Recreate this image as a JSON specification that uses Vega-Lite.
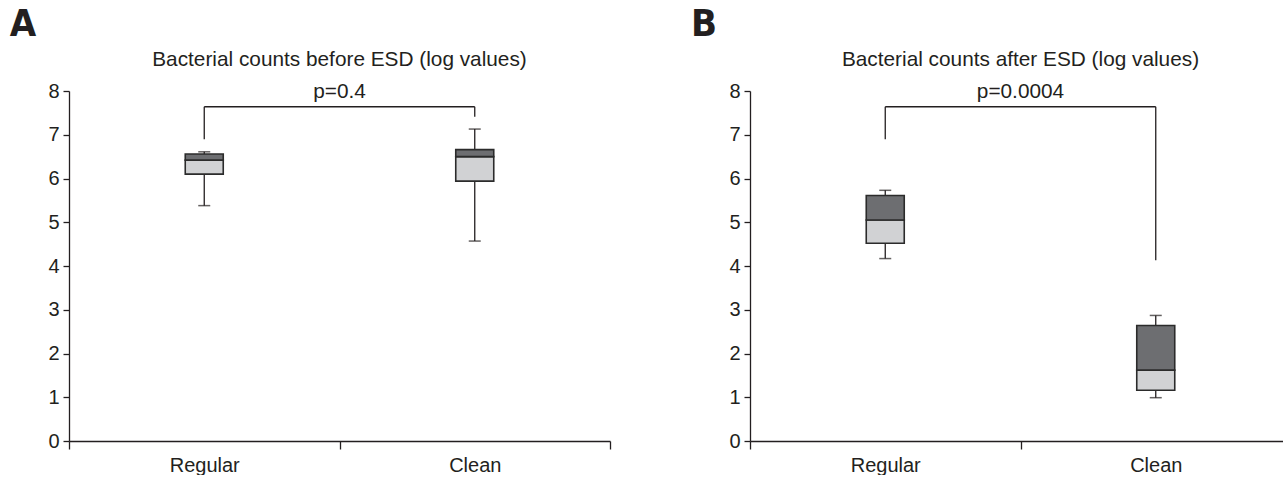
{
  "$schema": "https://vega.github.io/schema/vega-lite/v6.json",
  "background": "white",
  "padding": {"left": 9, "top": 5, "right": 0, "bottom": 0},
  "spacing": 79,
  "config": {
    "view": {"stroke": null},
    "font": "Liberation Sans",
    "axis": {
      "grid": false,
      "title": null,
      "domainColor": "#231f20",
      "tickColor": "#231f20",
      "labelColor": "#231f20",
      "labelFont": "Liberation Sans",
      "labelFontSize": 20,
      "domainWidth": 1.3,
      "tickWidth": 1.3
    }
  },
  "datasets": {
    "boxesA": [
      {"group": "Regular", "min": 5.38, "q1": 6.10, "median": 6.42, "q3": 6.56, "max": 6.61},
      {"group": "Clean", "min": 4.57, "q1": 5.94, "median": 6.50, "q3": 6.66, "max": 7.13}
    ],
    "boxesB": [
      {"group": "Regular", "min": 4.17, "q1": 4.52, "median": 5.05, "q3": 5.61, "max": 5.73},
      {"group": "Clean", "min": 0.99, "q1": 1.16, "median": 1.62, "q3": 2.64, "max": 2.87}
    ],
    "legsA": [
      {"group": "Regular", "bottom": 6.90, "top": 7.64},
      {"group": "Clean", "bottom": 7.41, "top": 7.64}
    ],
    "legsB": [
      {"group": "Regular", "bottom": 6.90, "top": 7.64},
      {"group": "Clean", "bottom": 4.13, "top": 7.64}
    ],
    "textA": [
      {"group": "Clean", "title": "Bacterial counts before ESD (log values)", "p": "p=0.4", "letter": "A", "first": "Regular", "y": 7.64}
    ],
    "textB": [
      {"group": "Clean", "title": "Bacterial counts after ESD (log values)", "p": "p=0.0004", "letter": "B", "first": "Regular", "y": 7.64}
    ]
  },
  "hconcat": [
    {
      "width": 541,
      "height": 350,
      "layer": [
        {
          "data": {"name": "boxesA"},
          "mark": {"type": "rule", "color": "#231f20", "strokeWidth": 1.3},
          "encoding": {
            "x": {"field": "group", "type": "nominal", "scale": {"domain": ["Regular", "Clean"], "paddingInner": 0, "paddingOuter": 0}, "axis": {"labelAngle": 0, "tickBand": "extent", "tickSize": 8, "labelPadding": 6}},
            "y": {"field": "min", "type": "quantitative", "scale": {"domain": [0, 8], "nice": false}, "axis": {"values": [0, 1, 2, 3, 4, 5, 6, 7, 8], "tickSize": 6, "labelPadding": 4}},
            "y2": {"field": "max"}
          }
        },
        {
          "data": {"name": "boxesA"},
          "transform": [{"fold": ["min", "max"], "as": ["stat", "value"]}],
          "mark": {"type": "tick", "color": "#231f20", "size": 12, "thickness": 1.5},
          "encoding": {
            "x": {"field": "group", "type": "nominal"},
            "y": {"field": "value", "type": "quantitative"}
          }
        },
        {
          "data": {"name": "boxesA"},
          "mark": {"type": "bar", "fill": "#d1d2d4", "stroke": "#2b2b2b", "strokeWidth": 1.6, "size": 38},
          "encoding": {
            "x": {"field": "group", "type": "nominal"},
            "y": {"field": "q1", "type": "quantitative"},
            "y2": {"field": "median"}
          }
        },
        {
          "data": {"name": "boxesA"},
          "mark": {"type": "bar", "fill": "#6d6e71", "stroke": "#2b2b2b", "strokeWidth": 1.6, "size": 38},
          "encoding": {
            "x": {"field": "group", "type": "nominal"},
            "y": {"field": "median", "type": "quantitative"},
            "y2": {"field": "q3"}
          }
        },
        {
          "data": {"name": "legsA"},
          "mark": {"type": "rule", "color": "#231f20", "strokeWidth": 1.3},
          "encoding": {
            "x": {"field": "group", "type": "nominal"},
            "y": {"field": "bottom", "type": "quantitative"},
            "y2": {"field": "top"}
          }
        },
        {
          "data": {"name": "textA"},
          "mark": {"type": "rule", "color": "#231f20", "strokeWidth": 1.3},
          "encoding": {
            "x": {"field": "first", "type": "nominal"},
            "x2": {"field": "group"},
            "y": {"field": "y", "type": "quantitative"}
          }
        },
        {
          "data": {"name": "textA"},
          "mark": {"type": "text", "fontSize": 20.8, "color": "#231f20", "baseline": "middle", "align": "center"},
          "encoding": {
            "x": {"field": "group", "type": "nominal", "bandPosition": 0},
            "y": {"datum": 8.70},
            "text": {"field": "title"}
          }
        },
        {
          "data": {"name": "textA"},
          "mark": {"type": "text", "fontSize": 20.8, "color": "#231f20", "baseline": "middle", "align": "center"},
          "encoding": {
            "x": {"field": "group", "type": "nominal", "bandPosition": 0},
            "y": {"datum": 7.97},
            "text": {"field": "p"}
          }
        },
        {
          "data": {"name": "textA"},
          "mark": {"type": "text", "fontSize": 38, "fontWeight": "bold", "font": "DejaVu Sans Condensed, Roboto, Liberation Sans, sans-serif", "color": "#231f20", "baseline": "middle", "align": "center"},
          "encoding": {
            "x": {"field": "first", "type": "nominal", "bandPosition": -0.17},
            "y": {"datum": 9.52},
            "text": {"field": "letter"}
          }
        }
      ]
    },
    {
      "width": 541,
      "height": 350,
      "layer": [
        {
          "data": {"name": "boxesB"},
          "mark": {"type": "rule", "color": "#231f20", "strokeWidth": 1.3},
          "encoding": {
            "x": {"field": "group", "type": "nominal", "scale": {"domain": ["Regular", "Clean"], "paddingInner": 0, "paddingOuter": 0}, "axis": {"labelAngle": 0, "tickBand": "extent", "tickSize": 8, "labelPadding": 6}},
            "y": {"field": "min", "type": "quantitative", "scale": {"domain": [0, 8], "nice": false}, "axis": {"values": [0, 1, 2, 3, 4, 5, 6, 7, 8], "tickSize": 6, "labelPadding": 4}},
            "y2": {"field": "max"}
          }
        },
        {
          "data": {"name": "boxesB"},
          "transform": [{"fold": ["min", "max"], "as": ["stat", "value"]}],
          "mark": {"type": "tick", "color": "#231f20", "size": 12, "thickness": 1.5},
          "encoding": {
            "x": {"field": "group", "type": "nominal"},
            "y": {"field": "value", "type": "quantitative"}
          }
        },
        {
          "data": {"name": "boxesB"},
          "mark": {"type": "bar", "fill": "#d1d2d4", "stroke": "#2b2b2b", "strokeWidth": 1.6, "size": 38},
          "encoding": {
            "x": {"field": "group", "type": "nominal"},
            "y": {"field": "q1", "type": "quantitative"},
            "y2": {"field": "median"}
          }
        },
        {
          "data": {"name": "boxesB"},
          "mark": {"type": "bar", "fill": "#6d6e71", "stroke": "#2b2b2b", "strokeWidth": 1.6, "size": 38},
          "encoding": {
            "x": {"field": "group", "type": "nominal"},
            "y": {"field": "median", "type": "quantitative"},
            "y2": {"field": "q3"}
          }
        },
        {
          "data": {"name": "legsB"},
          "mark": {"type": "rule", "color": "#231f20", "strokeWidth": 1.3},
          "encoding": {
            "x": {"field": "group", "type": "nominal"},
            "y": {"field": "bottom", "type": "quantitative"},
            "y2": {"field": "top"}
          }
        },
        {
          "data": {"name": "textB"},
          "mark": {"type": "rule", "color": "#231f20", "strokeWidth": 1.3},
          "encoding": {
            "x": {"field": "first", "type": "nominal"},
            "x2": {"field": "group"},
            "y": {"field": "y", "type": "quantitative"}
          }
        },
        {
          "data": {"name": "textB"},
          "mark": {"type": "text", "fontSize": 20.8, "color": "#231f20", "baseline": "middle", "align": "center"},
          "encoding": {
            "x": {"field": "group", "type": "nominal", "bandPosition": 0},
            "y": {"datum": 8.70},
            "text": {"field": "title"}
          }
        },
        {
          "data": {"name": "textB"},
          "mark": {"type": "text", "fontSize": 20.8, "color": "#231f20", "baseline": "middle", "align": "center"},
          "encoding": {
            "x": {"field": "group", "type": "nominal", "bandPosition": 0},
            "y": {"datum": 7.97},
            "text": {"field": "p"}
          }
        },
        {
          "data": {"name": "textB"},
          "mark": {"type": "text", "fontSize": 38, "fontWeight": "bold", "font": "DejaVu Sans Condensed, Roboto, Liberation Sans, sans-serif", "color": "#231f20", "baseline": "middle", "align": "center"},
          "encoding": {
            "x": {"field": "first", "type": "nominal", "bandPosition": -0.17},
            "y": {"datum": 9.52},
            "text": {"field": "letter"}
          }
        }
      ]
    }
  ]
}
